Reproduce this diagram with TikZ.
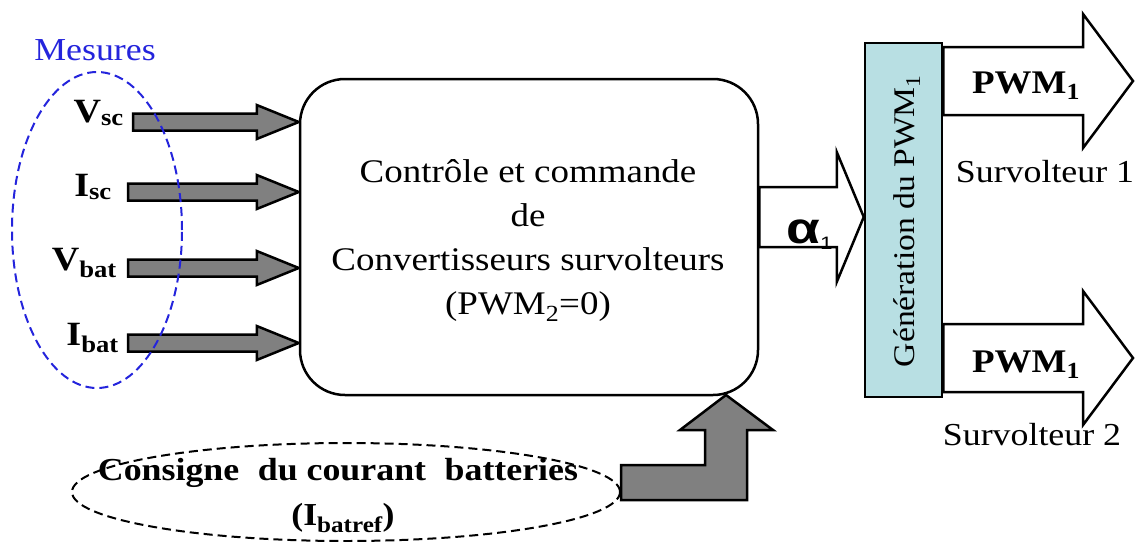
\documentclass[tikz,border=0pt]{standalone}
\usepackage{fontspec}
\setmainfont{Liberation Serif}[FakeStretch=1.12]
\newfontfamily\alphafont{Liberation Sans}[FakeStretch=1.25]
\usetikzlibrary{calc,shapes.geometric,backgrounds}
\definecolor{arrgray}{HTML}{808080}
\definecolor{genfill}{HTML}{B8DFE3}
\definecolor{mesblue}{HTML}{2424DC}
\newcommand\harrow[6]{%
  \path[#6] let \p1=(#1), \p2=(#2) in
  (\x1,\y2+#3) -- (\x2-#5,\y2+#3) -- (\x2-#5,\y2+#4) -- (\x2,\y2) --
  (\x2-#5,\y2-#4) -- (\x2-#5,\y2-#3) -- (\x1,\y2-#3) -- cycle;}
\begin{document}
\begin{tikzpicture}[x=1pt,y=-1pt,
  ctrlbox/.style={draw, line width=2.5pt, rounded corners=45pt, fill=white,
    minimum width=458pt, minimum height=316pt, inner sep=0pt},
  genbox/.style={draw, line width=2.5pt, fill=genfill,
    minimum width=77pt, minimum height=354pt, inner sep=0pt},
  grayarrow/.style={draw, line width=2.5pt, fill=arrgray, line join=miter},
  whitearrow/.style={draw, line width=2.5pt, fill=white, line join=miter},
  meslabel/.style={font=\bfseries\fontsize{34}{40}\selectfont, anchor=base east, inner sep=0pt},
  pwmlabel/.style={font=\bfseries\fontsize{33}{40}\selectfont, anchor=base, inner sep=0pt},
  survlabel/.style={font=\fontsize{32}{38}\selectfont, anchor=base, inner sep=0pt},
  dashell/.style={draw, ellipse, dash pattern=on 9pt off 5pt, line width=2pt, inner sep=0pt}
]
\useasboundingbox (0,0) rectangle (1140,541);

% main blocks
\node[ctrlbox] (ctrl) at (529,237) {};
\node[font=\fontsize{33}{44}\selectfont, align=center, inner sep=0pt] (ctrltext) at (528,241)
  {Contrôle et commande\\de\\Convertisseurs survolteurs\\(PWM\textsubscript{2}=0)};
\node[genbox] (gen) at (903.5,220) {};
\node[rotate=90, font=\fontsize{30}{36}\selectfont, inner sep=0pt] (gentext) at (907,221)
  {Génération du PWM\textsubscript{1}};

% measurement labels
\node[font=\fontsize{32}{36}\selectfont, text=mesblue, anchor=base, inner sep=0pt] (mestext) at (95,60) {Mesures};
\node[meslabel] (vsc) at (124,122) {V\textsubscript{sc}};
\node[meslabel] (isc) at (112,196) {I\textsubscript{sc}};
\node[meslabel] (vbat) at (117,270) {V\textsubscript{bat}};
\node[meslabel] (ibat) at (119,345) {I\textsubscript{bat}};

\coordinate (vsc-s) at (133,122);
\coordinate (isc-s) at (128,192);
\coordinate (vbat-s) at (128,268);
\coordinate (ibat-s) at (128,343);
\coordinate (alpha-y) at (760,217);
\coordinate (pwm1-tip) at (1133,81);
\coordinate (pwm2-tip) at (1133,358);

% consigne
\node[dashell, minimum width=548pt, minimum height=98pt] (cons) at (346,492) {};
\node[font=\bfseries\fontsize{32}{40}\selectfont, anchor=base, inner sep=0pt] (constext1) at (338,480)
  {Consigne\hspace{0.3em} du courant\hspace{0.3em} batteries};
\node[font=\bfseries\fontsize{32}{40}\selectfont, anchor=base, inner sep=0pt] (constext2) at (343,525)
  {(I\textsubscript{batref})};

% outputs
\node[pwmlabel] (pwmA) at (1026,93) {PWM\textsubscript{1}};
\node[pwmlabel] (pwmB) at (1026,372) {PWM\textsubscript{1}};
\node[survlabel] (surv1) at (1045,182) {Survolteur 1};
\node[survlabel] (surv2) at (1032,445) {Survolteur 2};

\node[anchor=base west, inner sep=0pt, font=\alphafont\bfseries\fontsize{44}{44}\selectfont] (alpha) at (786,243)
  {α\raisebox{-6pt}{\alphafont\mdseries\fontsize{18}{18}\selectfont 1}};

\begin{pgfonlayer}{background}
  \harrow{vsc-s}{ctrl.west |- vsc-s}{8.5pt}{17pt}{42pt}{grayarrow}
  \harrow{isc-s}{ctrl.west |- isc-s}{8.5pt}{17pt}{42pt}{grayarrow}
  \harrow{vbat-s}{ctrl.west |- vbat-s}{8.5pt}{17pt}{42pt}{grayarrow}
  \harrow{ibat-s}{ctrl.west |- ibat-s}{8.5pt}{17pt}{42pt}{grayarrow}
  \harrow{ctrl.east |- alpha-y}{gen.west |- alpha-y}{30pt}{65pt}{27pt}{whitearrow}
  \harrow{gen.east |- pwm1-tip}{pwm1-tip}{34pt}{67pt}{50pt}{whitearrow}
  \harrow{gen.east |- pwm2-tip}{pwm2-tip}{34pt}{67pt}{50pt}{whitearrow}
\end{pgfonlayer}

% L-shaped arrow from consigne to control block
\coordinate (ltip) at (726,395);
\draw[grayarrow] let \p1=(ltip), \p2=(cons.east) in
  (\x2,\y1-70pt) -- (\x1-21pt,\y1-70pt) -- (\x1-21pt,\y1-35pt) -- (\x1-46pt,\y1-35pt) --
  (\x1,\y1) -- (\x1+47pt,\y1-35pt) -- (\x1+21pt,\y1-35pt) -- (\x1+21pt,\y1-105pt) --
  (\x2,\y1-105pt) -- cycle;

% mesures ellipse
\node[dashell, draw=mesblue, minimum width=170pt, minimum height=316pt] (mes) at (97,230) {};
\end{tikzpicture}
\end{document}
